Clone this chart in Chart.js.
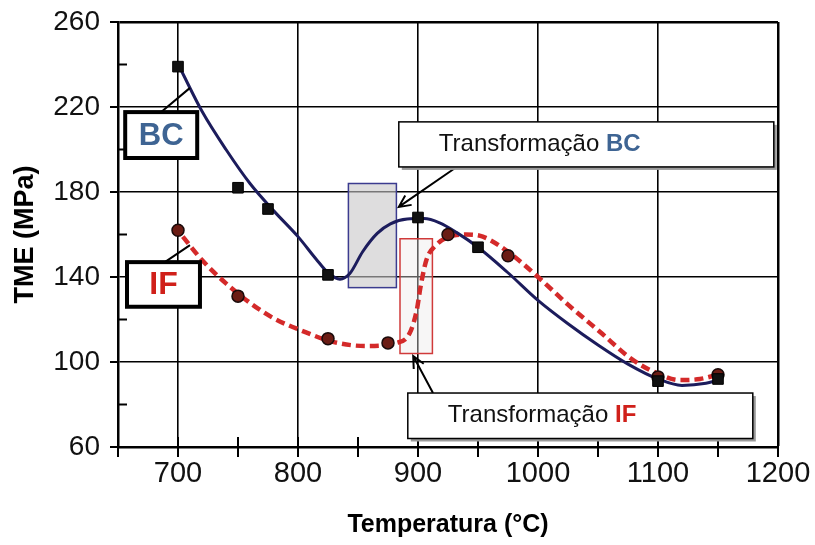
<!DOCTYPE html>
<html>
<head>
<meta charset="utf-8">
<script src="https://cdn.jsdelivr.net/npm/chart.js@4.4.0/dist/chart.umd.min.js"></script>
<style>
  html, body { margin: 0; padding: 0; background: #fff; }
</style>
</head>
<body>
<canvas id="tmeChart" width="815" height="545"></canvas>
<script>
// measured points
const bcTemps = [700, 750, 775, 825, 900, 950, 1100, 1150];
const bcValues = [239, 182, 172, 141, 168, 154, 91, 92];
const ifTemps = [700, 750, 825, 875, 925, 975, 1100, 1150];
const ifValues = [162, 131, 111, 109, 160, 150, 93, 94];

// fitted curves
const bcFitTemps = [702, 720, 740, 760, 780, 800, 815, 825, 835, 843, 854, 866, 877, 891, 905, 918, 932, 950, 975, 1000, 1025, 1050, 1075, 1100, 1120, 1140, 1150];
const bcFitValues = [238, 218, 200, 184, 171, 159, 148.5, 142, 139, 141.5, 152, 160.5, 165, 167.3, 167.5, 165.5, 161, 154, 142, 129, 118, 108, 99, 92, 89, 90, 91.5];
const ifFitTemps = [704, 720, 740, 762, 780, 802, 829, 857, 882, 893, 899, 902, 907, 915, 924, 940, 954, 977, 1000, 1025, 1052, 1079, 1100, 1118, 1135, 1150];
const ifFitValues = [159, 148, 137, 127, 120.5, 115, 109.5, 107.5, 109, 113.5, 124.5, 135, 148, 155, 158.5, 160, 159, 151, 140, 127, 114, 101, 94.5, 91.5, 92, 94];

const xTickLabels = [700, 800, 900, 1000, 1100, 1200];
const yTickLabels = [60, 100, 140, 180, 220, 260];

const FONT = "'Liberation Sans', Arial, sans-serif";

function toXY(xs, ys) {
  return xs.map((t, i) => ({ x: t, y: ys[i] }));
}

function arrow(ctx, x0, y0, x1, y1) {
  ctx.beginPath();
  ctx.moveTo(x0, y0);
  ctx.lineTo(x1, y1);
  const a = Math.atan2(y0 - y1, x0 - x1);
  ctx.moveTo(x1 + 13 * Math.cos(a + 0.45), y1 + 13 * Math.sin(a + 0.45));
  ctx.lineTo(x1, y1);
  ctx.lineTo(x1 + 13 * Math.cos(a - 0.45), y1 + 13 * Math.sin(a - 0.45));
  ctx.stroke();
}

const overlay = {
  id: "overlay",
  beforeDatasetsDraw(chart) {
    const { ctx } = chart;
    const sx = chart.scales.x, sy = chart.scales.y;
    const zone = (t0, t1, v0, v1, fill, stroke) => {
      const x0 = sx.getPixelForValue(t0), x1 = sx.getPixelForValue(t1);
      const y0 = sy.getPixelForValue(v1), y1 = sy.getPixelForValue(v0);
      ctx.save();
      ctx.fillStyle = fill;
      ctx.fillRect(x0, y0, x1 - x0, y1 - y0);
      ctx.strokeStyle = stroke;
      ctx.lineWidth = 1.5;
      ctx.strokeRect(x0, y0, x1 - x0, y1 - y0);
      ctx.restore();
    };
    zone(842, 882, 135, 184, "rgba(200,198,200,0.6)", "#3b3b8f");
    zone(885, 912, 104, 158, "rgba(236,232,232,0.4)", "#d03a3a");
  },
  afterDraw(chart) {
    const { ctx } = chart;
    const sx = chart.scales.x, sy = chart.scales.y;
    const px = (t) => sx.getPixelForValue(t);
    const py = (v) => sy.getPixelForValue(v);
    const left = chart.chartArea.left, bottom = chart.chartArea.bottom;

    ctx.save();
    ctx.strokeStyle = "#000";
    ctx.lineWidth = 2;
    // x ticks every 50, crossing the axis
    for (let t = 650; t <= 1200; t += 50) {
      ctx.beginPath();
      ctx.moveTo(px(t), bottom - 10);
      ctx.lineTo(px(t), bottom + 10);
      ctx.stroke();
    }
    // y ticks: majors outside, minors inside
    for (let v = 60; v <= 260; v += 20) {
      ctx.beginPath();
      if ((v - 60) % 40 === 0) {
        ctx.moveTo(left - 8, py(v));
        ctx.lineTo(left, py(v));
      } else {
        ctx.moveTo(left, py(v));
        ctx.lineTo(left + 9, py(v));
      }
      ctx.stroke();
    }

    // connectors and arrows
    ctx.lineWidth = 2;
    ctx.beginPath();
    ctx.moveTo(px(685), py(217.2));
    ctx.lineTo(px(710), py(229));
    ctx.moveTo(px(689), py(147));
    ctx.lineTo(px(710), py(155));
    ctx.stroke();
    arrow(ctx, px(931), py(191.3), px(884), py(173));
    arrow(ctx, px(912.5), py(85.4), px(896), py(102.8));

    // label boxes
    const labelBox = (t0, t1, v0, v1, lw, shadow) => {
      const x0 = px(t0), x1 = px(t1), y0 = py(v1), y1 = py(v0);
      if (shadow) {
        ctx.fillStyle = "#9a9a9a";
        ctx.fillRect(x0 + 3, y0 + 3, x1 - x0, y1 - y0);
      }
      ctx.fillStyle = "#fff";
      ctx.fillRect(x0, y0, x1 - x0, y1 - y0);
      ctx.strokeStyle = "#000";
      ctx.lineWidth = lw;
      ctx.strokeRect(x0, y0, x1 - x0, y1 - y0);
      return { x0, x1, y0, y1 };
    };

    let b = labelBox(656, 716, 196, 217.6, 4, false);
    ctx.fillStyle = "#3e6493";
    ctx.font = "bold 31px " + FONT;
    ctx.textAlign = "center";
    ctx.textBaseline = "middle";
    ctx.fillText("BC", (b.x0 + b.x1) / 2, (b.y0 + b.y1) / 2 + 1);

    b = labelBox(657.5, 718.3, 126, 147, 4, false);
    ctx.fillStyle = "#d0201a";
    ctx.font = "bold 32px " + FONT;
    ctx.fillText("IF", (b.x0 + b.x1) / 2, (b.y0 + b.y1) / 2 + 1);

    const transBox = (t0, t1, v0, v1, tag, color) => {
      const r = labelBox(t0, t1, v0, v1, 1.5, true);
      ctx.textAlign = "left";
      ctx.textBaseline = "middle";
      ctx.font = "24px " + FONT;
      ctx.fillStyle = "#111";
      const tx = r.x0 + 40, ty = (r.y0 + r.y1) / 2;
      ctx.fillText("Transformação ", tx, ty);
      const w = ctx.measureText("Transformação ").width;
      ctx.font = "bold 24px " + FONT;
      ctx.fillStyle = color;
      ctx.fillText(tag, tx + w, ty);
    };
    transBox(884, 1196.5, 191.8, 213, "BC", "#3e6493");
    transBox(891.5, 1179, 64, 85.4, "IF", "#d0201a");
    ctx.restore();
  }
};

const config = {
  type: "scatter",
  data: {
    datasets: [
      {
        label: "BC",
        data: toXY(bcTemps, bcValues),
        pointStyle: "rect",
        pointRadius: 7.5,
        backgroundColor: "#111",
        borderColor: "#000",
        order: 0,
      },
      {
        label: "IF",
        data: toXY(ifTemps, ifValues),
        pointStyle: "circle",
        pointRadius: 6,
        backgroundColor: "#6b1c14",
        borderColor: "#1a0a0a",
        borderWidth: 1.5,
        order: 0,
      },
      {
        label: "BC ajuste",
        data: toXY(bcFitTemps, bcFitValues),
        showLine: true,
        borderColor: "#1c1c5c",
        borderWidth: 3,
        pointRadius: 0,
        cubicInterpolationMode: "monotone",
        order: 1,
      },
      {
        label: "IF ajuste",
        data: toXY(ifFitTemps, ifFitValues),
        showLine: true,
        borderColor: "#d42a2a",
        borderWidth: 4.5,
        borderDash: [9, 5],
        pointRadius: 0,
        cubicInterpolationMode: "monotone",
        order: 1,
      },
    ],
  },
  options: {
    responsive: false,
    animation: false,
    devicePixelRatio: 1,
    layout: {
      padding: { left: 0, top: 22, right: 37, bottom: 0 },
    },
    plugins: {
      legend: { display: false },
      tooltip: { enabled: false },
    },
    scales: {
      x: {
        type: "linear",
        min: 650,
        max: 1200,
        afterFit: (scale) => {
          scale.height = 98;
          scale.paddingLeft = 0;
          scale.paddingRight = 0;
        },
        ticks: {
          stepSize: 50,
          padding: 10,
          maxRotation: 0,
          minRotation: 0,
          autoSkip: false,
          color: "#111",
          font: { family: FONT, size: 29 },
          callback: (v) => (xTickLabels.includes(v) ? String(v) : ""),
        },
        grid: {
          drawTicks: false,
          color: (c) => (c.tick && c.tick.value % 100 === 0 ? "#000" : "rgba(0,0,0,0)"),
          lineWidth: (c) => (c.tick && c.tick.value === 1200 ? 2.5 : 1.6),
        },
        border: { color: "#000", width: 2.5 },
        title: {
          display: true,
          text: "Temperatura (°C)",
          color: "#000",
          font: { family: FONT, size: 25, weight: "bold" },
          padding: { top: 0, bottom: 5 },
        },
      },
      y: {
        min: 60,
        max: 260,
        afterFit: (scale) => {
          scale.width = 118;
          scale.paddingTop = 0;
          scale.paddingBottom = 0;
        },
        ticks: {
          stepSize: 20,
          padding: 18,
          autoSkip: false,
          color: "#111",
          font: { family: FONT, size: 28 },
          callback: (v) => (yTickLabels.includes(v) ? String(v) : ""),
        },
        grid: {
          drawTicks: false,
          color: (c) => (c.tick && (c.tick.value - 60) % 40 === 0 ? "#000" : "rgba(0,0,0,0)"),
          lineWidth: (c) => (c.tick && c.tick.value === 260 ? 2.5 : 1.6),
        },
        border: { color: "#000", width: 2.5 },
        title: {
          display: true,
          text: "TME (MPa)",
          color: "#000",
          font: { family: FONT, size: 27, weight: "bold" },
          padding: { top: 9, bottom: 0 },
        },
      },
    },
  },
  plugins: [overlay],
};

var tmeChart = new Chart(document.getElementById("tmeChart"), config);
</script>
</body>
</html>
